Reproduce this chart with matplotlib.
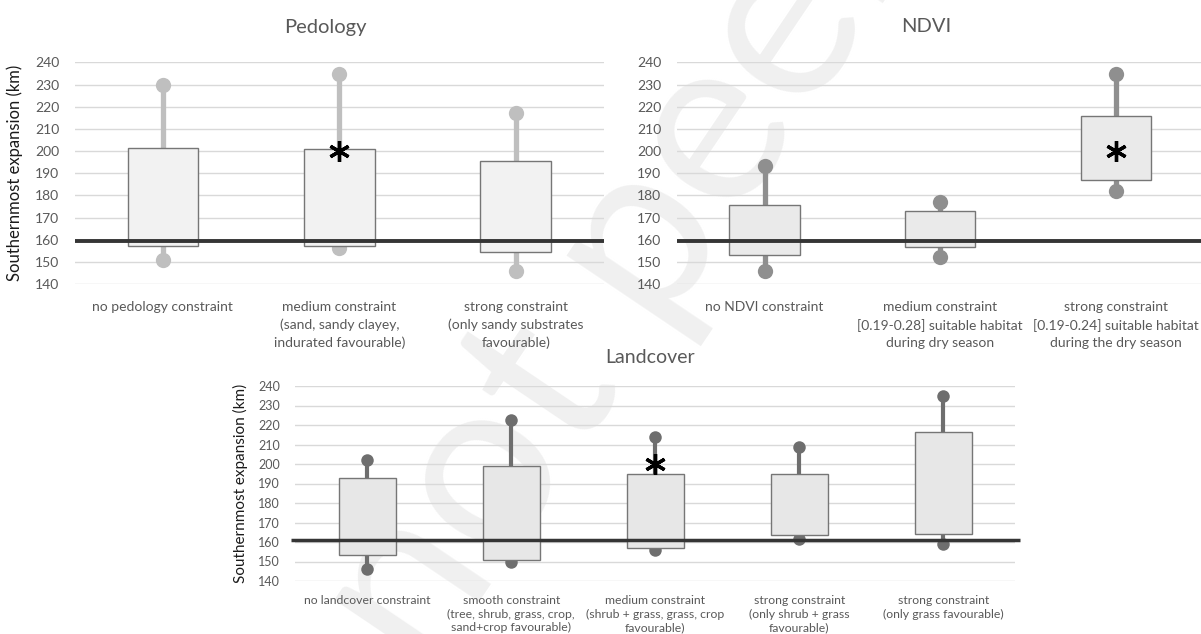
import matplotlib
matplotlib.use("Agg")
import matplotlib.pyplot as plt
import numpy as np

plt.rcParams['font.family'] = ['Lato', 'DejaVu Sans']

# ---------------- data ----------------
ped_labels = ["no pedology constraint",
              "medium constraint\n(sand, sandy clayey,\nindurated favourable)",
              "strong constraint\n(only sandy substrates\nfavourable)"]
ped_q1 = [157.3, 157.3, 154.5]
ped_q3 = [201.5, 200.8, 195.6]
ped_min = [150.7, 156.2, 145.9]
ped_max = [229.8, 234.8, 217.0]
ped_ref = 159.6
ped_sig = [False, True, False]

ndvi_labels = ["no NDVI constraint",
               "medium constraint\n[0.19-0.28] suitable habitat\nduring dry season",
               "strong constraint\n[0.19-0.24] suitable habitat\nduring the dry season"]
ndvi_q1 = [153.3, 156.8, 187.1]
ndvi_q3 = [175.5, 172.9, 215.9]
ndvi_min = [145.9, 152.1, 181.9]
ndvi_max = [193.2, 176.9, 234.8]
ndvi_ref = 159.4
ndvi_sig = [False, False, True]

land_labels = ["no landcover constraint",
               "smooth constraint\n(tree, shrub, grass, crop,\nsand+crop favourable)",
               "medium constraint\n(shrub + grass, grass, crop\nfavourable)",
               "strong constraint\n(only shrub + grass\nfavourable)",
               "strong constraint\n(only grass favourable)"]
land_q1 = [153.2, 150.8, 156.9, 163.6, 163.9]
land_q3 = [192.8, 199.1, 195.0, 194.9, 216.6]
land_min = [146.0, 149.6, 155.9, 161.5, 159.0]
land_max = [202.1, 222.7, 213.8, 208.9, 234.9]
land_ref = 161.2
land_sig = [False, False, True, False, False]

star_level = 200
yticks = [140, 150, 160, 170, 180, 190, 200, 210, 220, 230, 240]
ylabel = "Southernmost expansion (km)"

# ---------------- figure ----------------
W, H = 1201, 634
fig = plt.figure(figsize=(W / 100, H / 100), dpi=100)


def px_axes(x0, x1, ytop, ybot):
    return fig.add_axes([x0 / W, 1 - ybot / H, (x1 - x0) / W, (ybot - ytop) / H])


# watermark (behind the charts)
fig.text(426 / W, 1 - 681 / H, "not peer reviewed", rotation=56, rotation_mode='anchor',
         ha='left', va='baseline', fontsize=172, color='#f0f0f0', zorder=-5,
         fontweight='normal')


def draw_panel(ax, labels, q1, q3, mn, mx, ref, sig, whisk_c, face_c, tick_fs, lab_fs,
               lab_ls, dot_ms, whisk_lw, ref_lw, ref_ext):
    n = len(labels)
    x = np.arange(n)
    ax.set_xlim(-0.5, n - 0.5)
    ax.set_ylim(140, 240)
    ax.patch.set_alpha(0)
    for s in ax.spines.values():
        s.set_visible(False)
    ax.set_yticks(yticks)
    ax.set_yticklabels([str(t) for t in yticks], fontsize=tick_fs, color='#595959')
    ax.tick_params(axis='y', length=0, pad=11)
    ax.tick_params(axis='x', length=0, pad=12)
    ax.set_xticks(x)
    ax.set_xticklabels(labels, fontsize=lab_fs, color='#595959', linespacing=lab_ls, va='top')
    for t in yticks:
        ax.axhline(t, color='#d9d9d9', lw=1.0, zorder=1)
    # whiskers
    for i in range(n):
        ax.plot([x[i], x[i]], [q3[i], mx[i]], color=whisk_c, lw=whisk_lw, zorder=2,
                solid_capstyle='butt')
        ax.plot([x[i], x[i]], [mn[i], q1[i]], color=whisk_c, lw=whisk_lw, zorder=2,
                solid_capstyle='butt')
    ax.plot(x, mx, 'o', color=whisk_c, ms=dot_ms, zorder=2, clip_on=False, mew=0)
    ax.plot(x, mn, 'o', color=whisk_c, ms=dot_ms, zorder=2, clip_on=False, mew=0)
    # boxes
    heights = [b - a for a, b in zip(q1, q3)]
    ax.bar(x, heights, bottom=q1, width=0.40, color=face_c, edgecolor='#767676',
           linewidth=1.0, zorder=3)
    # reference line
    ax.plot([-0.5 - ref_ext, n - 0.5 + ref_ext], [ref, ref], color='#353535', lw=ref_lw,
            zorder=4, clip_on=False, solid_capstyle='butt')
    # significance
    for i in range(n):
        if sig[i]:
            ax.plot(x[i], star_level, marker=(6, 2, 0), color='black', ms=15, mew=2.4,
                    zorder=5)


# Pedology
ax1 = px_axes(74.6, 604, 62.4, 284)
draw_panel(ax1, ped_labels, ped_q1, ped_q3, ped_min, ped_max, ped_ref, ped_sig,
           '#bfbfbf', '#f2f2f2', 10, 10, 1.55, 11, 3.8, 2.8, 0.0)
ax1.set_ylabel(ylabel, fontsize=12, color='#1a1a1a', labelpad=9)
fig.text(325 / W, 1 - 27 / H, "Pedology", ha='center', va='center', fontsize=14.5,
         color='#595959')

# NDVI
ax2 = px_axes(676.7, 1203.7, 62.4, 284)
draw_panel(ax2, ndvi_labels, ndvi_q1, ndvi_q3, ndvi_min, ndvi_max, ndvi_ref, ndvi_sig,
           '#8f8f8f', '#eaeaea', 10, 10, 1.55, 11, 3.8, 2.8, 0.0)
fig.text(926 / W, 1 - 27 / H, "NDVI", ha='center', va='center', fontsize=14.5,
         color='#595959')

# Landcover
ax3 = px_axes(295.3, 1015.3, 386, 581)
draw_panel(ax3, land_labels, land_q1, land_q3, land_min, land_max, land_ref, land_sig,
           '#6e6e6e', '#e7e7e7', 9, 8.8, 1.3, 9, 3.0, 2.5, 0.03)
ax3.tick_params(axis='x', pad=10)
ax3.set_ylabel(ylabel, fontsize=11, color='#1a1a1a', labelpad=7)
fig.text(650 / W, 1 - 357 / H, "Landcover", ha='center', va='center', fontsize=14,
         color='#595959')

fig.savefig("out.png", dpi=100)
